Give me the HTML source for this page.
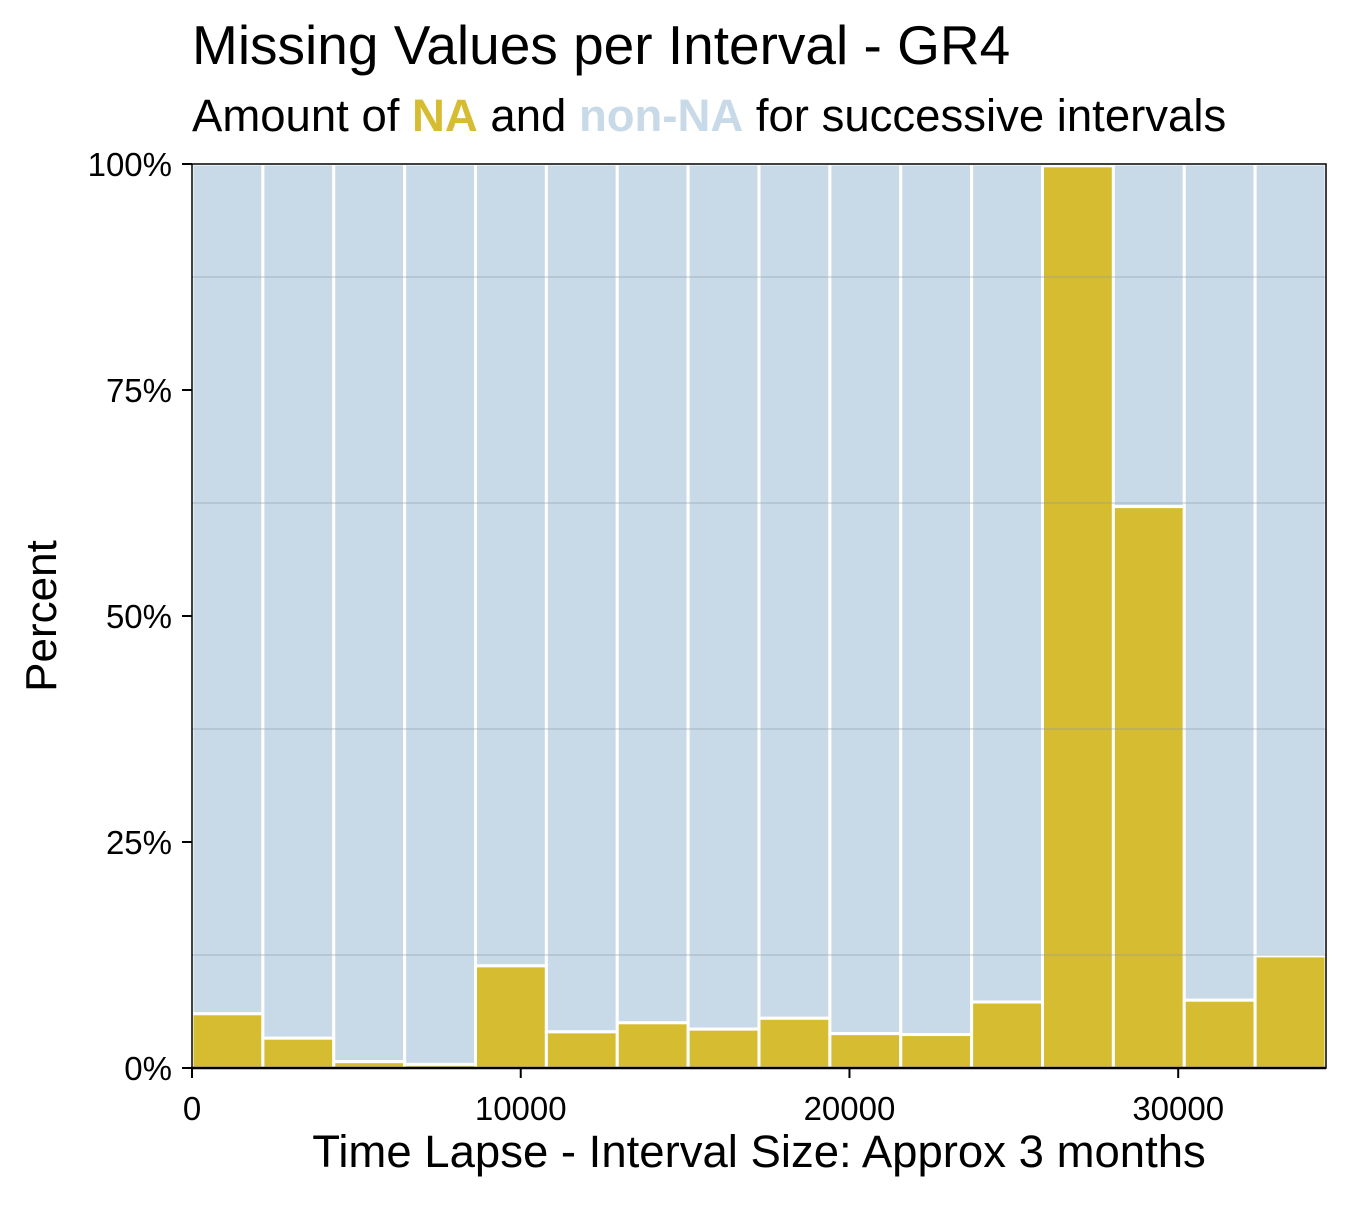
<!DOCTYPE html>
<html><head><meta charset="utf-8"><style>
body{margin:0;background:#fff;}
svg text{font-family:"Liberation Sans",sans-serif;}
</style></head><body>
<svg id="chart" width="1350" height="1200" xmlns="http://www.w3.org/2000/svg">
<text x="192" y="64" font-size="55" fill="#000">Missing Values per Interval - GR4</text>
<text x="192" y="131" font-size="45.5" fill="#000">Amount of <tspan fill="#D6BC30" font-weight="bold">NA</tspan> and <tspan fill="#c8d9e8" font-weight="bold">non-NA</tspan> for successive intervals</text>
<g id="bars"></g>
<g id="axes"></g>
<text x="0" y="0" font-size="44" text-anchor="middle" transform="translate(56,616) rotate(-90)">Percent</text>
<text x="759" y="1167" font-size="45.5" text-anchor="middle">Time Lapse - Interval Size: Approx 3 months</text>
</svg>
<script>
const naPercent = [6.0, 3.3, 0.7, 0.4, 11.3, 4.0, 5.0, 4.3, 5.5, 3.8, 3.7, 7.3, 99.8, 62.1, 7.5, 12.4];
const binWidth = 2156;
const xTicks = [0, 10000, 20000, 30000];
const yTicks = [0, 25, 50, 75, 100];
const yMinor = [12.5, 37.5, 62.5, 87.5];

const NS = "http://www.w3.org/2000/svg";
const X0 = 192, X1 = 1326, Y0 = 1068, Y1 = 164;
const xMax = binWidth * naPercent.length;
const xs = v => X0 + (v / xMax) * (X1 - X0);
const ys = v => Y0 - (v / 100) * (Y0 - Y1);
function el(tag, attrs, parent) {
  const e = document.createElementNS(NS, tag);
  for (const k in attrs) e.setAttribute(k, attrs[k]);
  parent.appendChild(e);
  return e;
}
const bars = document.getElementById("bars");
const axes = document.getElementById("axes");
naPercent.forEach((v, i) => {
  const xa = xs(i * binWidth), xb = xs((i + 1) * binWidth);
  const r1 = el("rect", {x: xa, y: ys(100), width: xb - xa, height: ys(v) - ys(100), fill: "#c8d9e8", stroke: "#fff", "stroke-width": 3}, bars);
  
  
  const r2 = el("rect", {x: xa, y: ys(v), width: xb - xa, height: ys(0) - ys(v), fill: "#D6BC30", stroke: "#fff", "stroke-width": 3}, bars);
  
  
});
yMinor.forEach(t => {
  const l = el("line", {x1: X0, x2: X1, y1: ys(t), y2: ys(t), stroke: "#8a9aaa", "stroke-width": 1, opacity: 0.6}, axes);
  
  
});
const frame = el("rect", {x: X0, y: Y1, width: X1 - X0, height: Y0 - Y1, fill: "none", stroke: "#000", "stroke-width": 1.5}, axes);


yTicks.forEach(t => {
  const l = el("line", {x1: X0 - 10, x2: X0, y1: ys(t), y2: ys(t), stroke: "#000", "stroke-width": 2}, axes);
  
  
  const tx = el("text", {x: X0 - 20, y: ys(t) + 12, "font-size": 33, "text-anchor": "end"}, axes);
  tx.textContent = t + "%";
  
  
});
xTicks.forEach(t => {
  const l = el("line", {x1: xs(t), x2: xs(t), y1: Y0, y2: Y0 + 10, stroke: "#000", "stroke-width": 2}, axes);
  
  
  const tx = el("text", {x: xs(t), y: Y0 + 52, "font-size": 33, "text-anchor": "middle"}, axes);
  tx.textContent = t;
  
  
});
const bl = el("line", {x1: X0 - 1, x2: X1, y1: Y0, y2: Y0, stroke: "#000", "stroke-width": 2.5}, axes);


</script>
</body></html>
